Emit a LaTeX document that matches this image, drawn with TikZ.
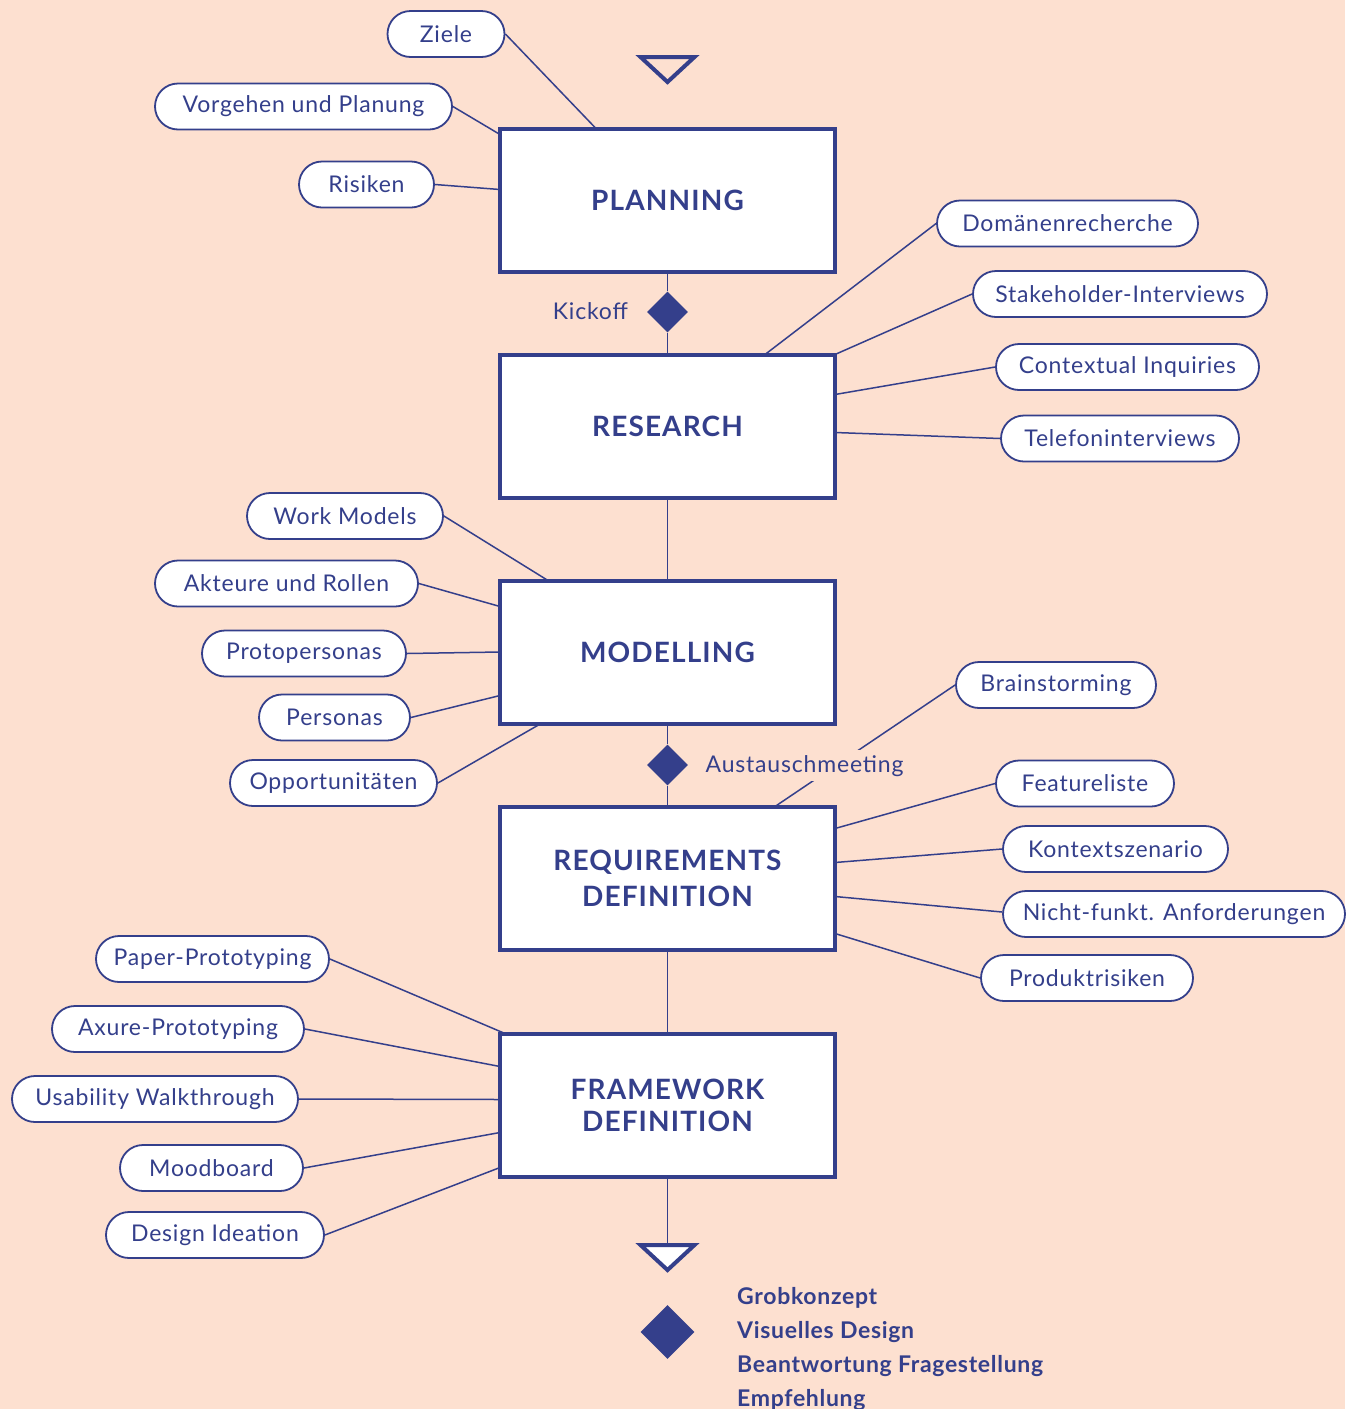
\documentclass[tikz,border=0pt]{standalone}
\usepackage{fontspec}
\setmainfont{Lato}
\newfontfamily\tagfont[LetterSpace=3.5]{Lato}
\newfontfamily\headfont[LetterSpace=4]{Lato}
\newfontfamily\outfont[LetterSpace=3]{Lato}
\usetikzlibrary{shapes.geometric,calc}
\definecolor{navy}{HTML}{343F8B}
\definecolor{peach}{HTML}{FDE0D0}

\begin{document}
\begin{tikzpicture}[x=1pt,y=-1pt,
  phase/.style={draw=navy, line width=4pt, fill=white, minimum width=335pt,
    minimum height=143pt, inner sep=0pt, outer sep=0pt, text=navy, align=center,
    font=\headfont\fontsize{28}{36}\selectfont\bfseries},
  pill/.style={draw=navy, line width=1.8pt, fill=white, rounded corners=23pt,
    minimum height=46pt, inner sep=0pt, text=navy,
    font=\tagfont\fontsize{23}{28}\selectfont},
  link/.style={draw=navy, line width=1.5pt},
  gate/.style={diamond, fill=navy, inner sep=0pt, minimum width=41pt, minimum height=41pt},
  endmark/.style={draw=navy, line width=4pt, line join=miter},
  caption/.style={text=navy, inner sep=0pt, font=\tagfont\fontsize{23}{28}\selectfont},
  result/.style={text=navy, inner sep=0pt, anchor=base west, font=\outfont\fontsize{23}{28}\selectfont\bfseries}
]
\useasboundingbox[fill=peach] (0,0) rectangle (1345,1409);

% process phases
\node[phase] (planning) at (667.5,200) {PLANNING};
\node[phase] (research) at (667.5,426) {RESEARCH};
\node[phase] (modelling) at (667.5,652) {MODELLING};
\node[phase, font=\headfont\fontsize{28}{36}\selectfont\bfseries] (requirements) at (667.5,878) {REQUIREMENTS\\DEFINITION};
\node[phase, font=\headfont\fontsize{28}{32}\selectfont\bfseries] (framework) at (667.5,1105) {FRAMEWORK\\DEFINITION};

% milestones
\node[gate] (kick) at (667.5,312) {};
\node[gate] (aust) at (667.5,765) {};
\node[gate, minimum width=54pt, minimum height=54pt] (final) at (667.5,1332) {};

% start and end markers
\coordinate (start) at (667.5,57);
\coordinate (finish) at (667.5,1245);
\draw[endmark] ([xshift=-27pt]start) -- ([xshift=27pt]start) -- ([yshift=-25pt]start) -- cycle;
\draw[endmark, fill=white] ([xshift=-27pt]finish) -- ([xshift=27pt]finish) -- ([yshift=-25pt]finish) -- cycle;

% planning topics
\node[pill, minimum width=117pt] (ziele) at (446,34) {Ziele};
\node[pill, minimum width=297pt] (vorgehen) at (303.5,106.5) {Vorgehen und Planung};
\node[pill, minimum width=135pt] (risiken) at (366.5,184.5) {Risiken};

% research methods
\node[pill, minimum width=261pt] (domaenen) at (1067.5,223.5) {Domänenrecherche};
\node[pill, minimum width=294pt] (stake) at (1120,294) {Stakeholder-Interviews};
\node[pill, minimum width=263pt] (context) at (1127.5,367) {Contextual Inquiries};
\node[pill, minimum width=238pt] (telefon) at (1120,438.5) {Telefoninterviews};

% modelling artefacts
\node[pill, minimum width=196pt] (work) at (345,516) {Work Models};
\node[pill, minimum width=263pt] (akteure) at (286.5,583.5) {Akteure und Rollen};
\node[pill, minimum width=204pt] (proto) at (304,653.5) {Protopersonas};
\node[pill, minimum width=151pt] (personas) at (334.5,717.5) {Personas};
\node[pill, minimum width=207pt] (opport) at (333.5,783) {Opportunitäten};

% requirements artefacts
\node[pill, minimum width=200pt] (brain) at (1056,685) {Brainstorming};
\node[pill, minimum width=178pt] (feature) at (1085,783.5) {Featureliste};
\node[pill, minimum width=225pt] (kontext) at (1115.5,849) {Kontextszenario};
\node[pill, minimum width=342pt] (nicht) at (1174,914) {Nicht-funkt. Anforderungen};
\node[pill, minimum width=212pt] (produkt) at (1087,978) {Produktrisiken};

% framework artefacts
\node[pill, minimum width=233pt] (paper) at (212.5,959) {Paper-Prototyping};
\node[pill, minimum width=252pt] (axure) at (178,1029) {Axure-Prototyping};
\node[pill, minimum width=286pt] (usab) at (155,1099) {Usability Walkthrough};
\node[pill, minimum width=183pt] (mood) at (211.5,1168) {Moodboard};
\node[pill, minimum width=218pt] (design) at (215,1235) {Design Ideation};

% main flow
\draw[link] (planning.south) -- (kick) -- (research.north);
\draw[link] (research.south) -- (modelling.north);
\draw[link] (modelling.south) -- (aust) -- (requirements.north);
\draw[link] (requirements.south) -- (framework.north);
\draw[link] (framework.south) -- (finish);

% topic connectors
\draw[link] (ziele.east) -- ([xshift=96pt]planning.north west);
\draw[link] (vorgehen.east) -- ([yshift=-6pt]planning.north west);
\draw[link] (risiken.east) -- ([yshift=-61pt]planning.north west);

\draw[link] (domaenen.west) -- ([xshift=265pt]research.north west);
\draw[link] (stake.west) -- (research.north east);
\draw[link] (context.west) -- ([yshift=-40pt]research.north east);
\draw[link] (telefon.west) -- ([yshift=-78pt]research.north east);

\draw[link] (work.east) -- ([xshift=48pt]modelling.north west);
\draw[link] (akteure.east) -- ([yshift=-26pt]modelling.north west);
\draw[link] (proto.east) -- (modelling.west);
\draw[link] (personas.east) -- ([yshift=-115pt]modelling.north west);
\draw[link] (opport.east) -- ([xshift=41pt]modelling.south west);

\draw[link] (brain.west) -- ([xshift=275pt]requirements.north west);
\draw[link] (feature.west) -- ([yshift=-22pt]requirements.north east);
\draw[link] (kontext.west) -- ([yshift=-56pt]requirements.north east);
\draw[link] ([yshift=2pt]nicht.west) -- ([yshift=-90pt]requirements.north east);
\draw[link] (produkt.west) -- ([yshift=-127pt]requirements.north east);

\draw[link] (paper.east) -- ([xshift=5pt]framework.north west);
\draw[link] (axure.east) -- ([yshift=-33pt]framework.north west);
\draw[link] (usab.east) -- ([yshift=-66pt]framework.north west);
\draw[link] (mood.east) -- ([yshift=-99pt]framework.north west);
\draw[link] (design.east) -- ([yshift=-134pt]framework.north west);

% milestone labels
\node[caption, anchor=base east] (kicklabel) at (628,319) {Kickoff};
\node[caption, fill=peach, inner xsep=2pt, inner ysep=5pt, anchor=base west] (austlabel) at (703.5,772) {Austauschmeeting};

% deliverables
\node[result] (out1) at (737,1304) {Grobkonzept};
\node[result] (out2) at (737,1338) {Visuelles Design};
\node[result] (out3) at (737,1372) {Beantwortung Fragestellung};
\node[result] (out4) at (737,1406) {Empfehlung};
\end{tikzpicture}
\end{document}
